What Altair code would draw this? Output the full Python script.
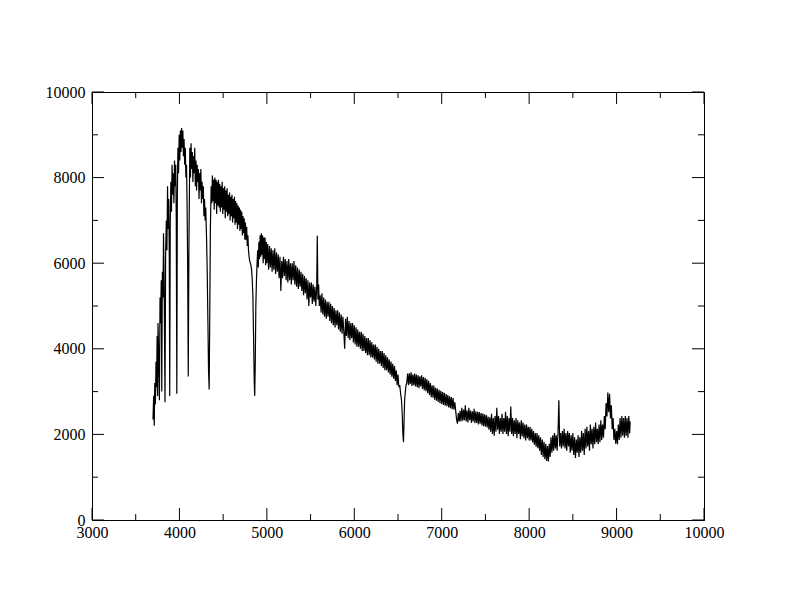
import altair as alt
import pandas as pd

# ---- spectrum (wavelength in Angstrom, flux) ----
wl_a = [3698, 3705, 3712, 3718, 3725, 3732, 3738, 3745, 3750, 3755, 3762, 3771, 3778, 3785, 3792,
        3798, 3805, 3812, 3818, 3825, 3835, 3842, 3850, 3857, 3864, 3871, 3878, 3884, 3889, 3895,
        3902, 3909, 3916, 3923, 3930, 3937, 3944, 3951, 3958, 3964, 3970, 3976, 3983, 3990, 3997]
fx_a = [2350, 2900, 2200, 3200, 2700, 3700, 3100, 4300, 2900, 4600, 3900, 2800, 5200, 4600, 5600,
        3000, 5800, 5200, 6700, 5600, 2750, 6200, 7000, 6300, 7800, 6800, 7500, 6200, 2900, 6900,
        7900, 7200, 8300, 7600, 8100, 7400, 8400, 7800, 8300, 7000, 2950, 7600, 8700, 8100, 9000]

wl_b = [4004, 4011, 4018, 4025, 4032, 4039, 4046, 4053, 4060, 4067, 4074, 4081, 4088, 4094, 4101,
        4108, 4114, 4119, 4126, 4133, 4140, 4147, 4154, 4161, 4168, 4175, 4182, 4189, 4196, 4203,
        4210, 4217, 4224, 4231, 4238, 4245, 4252, 4259, 4266, 4273, 4280, 4287, 4294, 4301, 4310,
        4318, 4326, 4333, 4340, 4347, 4354, 4363]
fx_b = [8400, 9100, 8600, 9160, 8700, 9100, 8500, 8900, 8300, 8700, 8000, 8300, 7300, 6000, 3350,
        6200, 7600, 8700, 8000, 8800, 8200, 8600, 7900, 8500, 8100, 8700, 7800, 8400, 7700, 8300,
        7900, 8200, 7500, 8100, 7700, 8200, 7400, 7900, 7500, 7800, 7100, 7500, 7000, 7300, 6600,
        5800, 4600, 3500, 3050, 4800, 6800, 7800]

wl_c = [4370, 4377, 4384, 4391, 4398, 4405, 4412, 4419, 4426, 4433, 4440, 4447, 4454, 4461, 4468,
        4475, 4482, 4489, 4496, 4503, 4510, 4517, 4524, 4531, 4538, 4545, 4552, 4559, 4566, 4573,
        4580, 4587, 4594, 4601, 4608, 4615, 4622, 4629, 4636, 4643, 4650, 4657, 4664, 4671, 4678,
        4685, 4692, 4699, 4706, 4713, 4720, 4727, 4734, 4741, 4748, 4755, 4762, 4769, 4776, 4783,
        4790, 4797, 4804, 4811, 4818, 4825, 4832, 4840, 4848, 4855, 4861, 4867, 4874, 4881, 4888,
        4895, 4902, 4909]
fx_c = [7400, 8050, 7450, 7950, 7250, 8000, 7400, 7950, 7150, 7900, 7350, 7950, 7300, 7850, 7200,
        7800, 7300, 7900, 7150, 7750, 7250, 7800, 7050, 7700, 7200, 7750, 7100, 7600, 7150, 7650,
        7000, 7550, 7100, 7600, 6950, 7500, 7050, 7550, 6900, 7450, 6950, 7400, 6800, 7350, 6900,
        7300, 6750, 7250, 6800, 7200, 6650, 7100, 6700, 7050, 6550, 6950, 6550, 6850, 6400, 6650,
        6300, 6150, 6050, 6000, 5950, 5850, 5650, 5250, 4300, 3300, 2900, 3600, 5000, 5600, 6000,
        6300, 5900, 6500]

wl_d = [4916, 4923, 4930, 4937, 4944, 4951, 4958, 4965, 4972, 4979, 4986, 4993, 5000, 5010, 5020,
        5030, 5040, 5050, 5060, 5070, 5080, 5090, 5100, 5110, 5120, 5130, 5140, 5150, 5160, 5170,
        5180, 5190, 5200, 5210, 5220, 5230, 5240, 5250, 5260, 5270, 5280, 5290, 5300, 5310, 5320,
        5330, 5340, 5350, 5360, 5370, 5380, 5390, 5400, 5410, 5420, 5430, 5440, 5450, 5460, 5470,
        5480, 5490, 5500, 5510, 5520, 5530, 5540, 5550, 5560, 5570, 5577, 5584, 5592, 5600]
fx_d = [6100, 6650, 6150, 6700, 6200, 6650, 6000, 6600, 6100, 6600, 5950, 6500, 6000, 6450, 5850,
        6400, 5900, 6350, 5800, 6300, 5850, 6350, 5750, 6250, 5800, 6200, 5650, 6150, 5350, 6050,
        5650, 6150, 5700, 6100, 5600, 6050, 5550, 6100, 5600, 6000, 5500, 6000, 5600, 6050, 5500,
        5950, 5450, 5900, 5400, 5850, 5450, 5800, 5350, 5750, 5250, 5700, 5300, 5650, 5150, 5600,
        5000, 5550, 5200, 5550, 5050, 5500, 5100, 5450, 5000, 5450, 6640, 5150, 5500, 5000]

wl_e = [5610, 5620, 5630, 5640, 5650, 5660, 5670, 5680, 5690, 5700, 5710, 5720, 5730, 5740, 5750,
        5760, 5770, 5780, 5790, 5800, 5810, 5820, 5830, 5840, 5850, 5860, 5870, 5880, 5890, 5900,
        5910, 5920, 5930, 5940, 5950, 5960, 5970, 5980, 5990, 6000, 6010, 6020, 6030, 6040, 6050,
        6060, 6070, 6080, 6090, 6100, 6110, 6120, 6130, 6140, 6150, 6160, 6170, 6180, 6190, 6200,
        6210, 6220, 6230, 6240, 6250, 6260, 6270, 6280, 6290, 6300, 6310, 6320, 6330, 6340, 6350,
        6360, 6370, 6380, 6390, 6400, 6410, 6420, 6430, 6440, 6450, 6460, 6470, 6480, 6490, 6500,
        6510, 6520, 6530, 6540, 6548, 6556, 6563, 6569, 6576, 6584, 6592]
fx_e = [5250, 4850, 5300, 4800, 5200, 4750, 5150, 4700, 5100, 4750, 5100, 4650, 5050, 4600, 5000,
        4550, 4950, 4500, 4900, 4550, 4900, 4450, 4850, 4400, 4800, 4350, 4750, 4400, 4000, 4700,
        4300, 4750, 4250, 4650, 4200, 4600, 4250, 4600, 4150, 4550, 4100, 4500, 4050, 4450, 4050,
        4400, 4000, 4400, 3950, 4350, 3950, 4300, 3900, 4250, 3850, 4250, 3850, 4200, 3800, 4150,
        3800, 4100, 3750, 4100, 3700, 4050, 3650, 4000, 3650, 3950, 3600, 3950, 3550, 3900, 3500,
        3850, 3500, 3800, 3450, 3750, 3400, 3700, 3350, 3650, 3300, 3600, 3250, 3500, 3150, 3400,
        3100, 3150, 2950, 2800, 2500, 2000, 1820, 2300, 2800, 3000, 3150]

wl_f = [6600, 6610, 6620, 6630, 6640, 6650, 6660, 6670, 6680, 6690, 6700, 6710, 6720, 6730, 6740,
        6750, 6760, 6770, 6780, 6790, 6800, 6810, 6820, 6830, 6840, 6850, 6860, 6870, 6880, 6890,
        6900, 6910, 6920, 6930, 6940, 6950, 6960, 6970, 6980, 6990, 7000, 7010, 7020, 7030, 7040,
        7050, 7060, 7070, 7080, 7090, 7100, 7110, 7120, 7130, 7140, 7150, 7160, 7170, 7180, 7190,
        7200]
fx_f = [3200, 3420, 3150, 3430, 3180, 3450, 3130, 3400, 3150, 3420, 3120, 3400, 3100, 3380, 3080,
        3360, 3120, 3380, 3060, 3340, 3030, 3320, 3010, 3290, 2960, 3250, 2920, 3200, 2870, 3150,
        2860, 3140, 2810, 3090, 2790, 3070, 2760, 3040, 2730, 3020, 2710, 2990, 2690, 2970, 2670,
        2940, 2660, 2920, 2630, 2890, 2610, 2870, 2590, 2850, 2580, 2750, 2550, 2350, 2250, 2500,
        2300]

wl_g = [7210, 7220, 7230, 7240, 7250, 7260, 7270, 7280, 7290, 7300, 7310, 7320, 7330, 7340, 7350,
        7360, 7370, 7380, 7390, 7400, 7410, 7420, 7430, 7440, 7450, 7460, 7470, 7480, 7490, 7500,
        7510, 7520, 7530, 7540, 7550, 7560, 7570, 7580, 7590, 7600, 7610, 7620, 7630, 7640, 7650,
        7660, 7670, 7680, 7690, 7700, 7710, 7720, 7730, 7740, 7750, 7760, 7770, 7780, 7790, 7800,
        7810, 7820, 7830, 7840, 7850, 7860, 7870, 7880, 7890, 7900, 7910, 7920, 7930, 7940, 7950,
        7960, 7970, 7980, 7990, 8000, 8010, 8020, 8030, 8040, 8050, 8060, 8070, 8080, 8090, 8100]
fx_g = [2550, 2300, 2620, 2320, 2580, 2330, 2680, 2300, 2560, 2280, 2620, 2330, 2560, 2270, 2540,
        2300, 2600, 2260, 2540, 2270, 2530, 2230, 2520, 2250, 2500, 2210, 2490, 2190, 2470, 2180,
        2450, 2160, 2420, 2110, 2400, 2060, 2480, 2010, 2380, 1970, 2430, 2060, 2620, 2110, 2430,
        2010, 2380, 2060, 2480, 2010, 2380, 2060, 2530, 2010, 2430, 1960, 2380, 2060, 2650, 2010,
        2380, 1960, 2330, 2010, 2380, 1910, 2330, 2010, 2280, 1890, 2330, 1960, 2280, 1910, 2230,
        1860, 2230, 1910, 2180, 1860, 2180, 1860, 2130, 1810, 2080, 1760, 2030, 1710, 2030, 1680]

wl_h = [8110, 8120, 8130, 8140, 8150, 8160, 8170, 8180, 8190, 8200, 8210, 8220, 8230, 8240, 8250,
        8260, 8270, 8280, 8290, 8300, 8310, 8320, 8330, 8340, 8350, 8360, 8370, 8380, 8390, 8400,
        8410, 8420, 8430, 8440, 8450, 8460, 8470, 8480, 8490, 8500, 8510, 8520, 8530, 8540, 8550,
        8560, 8570, 8580, 8590, 8600, 8610, 8620, 8630, 8640, 8650, 8660, 8670, 8680, 8690, 8700,
        8710, 8720, 8730, 8740, 8750, 8760, 8770, 8780, 8790, 8800, 8810, 8820, 8830, 8840, 8850,
        8860, 8870, 8880, 8890, 8900, 8910, 8920, 8930, 8940, 8950, 8960, 8970, 8980, 8990, 9000,
        9010, 9020, 9030, 9040, 9050, 9060, 9070, 9080, 9090, 9100, 9110, 9120, 9130, 9140, 9150,
        9155]
fx_h = [1980, 1620, 1930, 1520, 1880, 1470, 1830, 1420, 1780, 1380, 1730, 1370, 1780, 1470, 1930,
        1570, 1980, 1620, 2030, 1670, 1980, 1620, 2030, 2800, 1720, 2030, 1670, 2080, 1720, 2130,
        1670, 2030, 1620, 2080, 1720, 2030, 1570, 1980, 1620, 2030, 1520, 1930, 1450, 1880, 1570,
        1980, 1470, 1930, 1570, 2080, 1620, 2030, 1520, 2130, 1670, 2180, 1720, 2080, 1620, 2230,
        1770, 2130, 1670, 2180, 1770, 2280, 1820, 2130, 1770, 2230, 1820, 2330, 1870, 2230, 1920,
        2430, 2120, 2730, 2420, 2980, 2520, 2950, 2370, 2680, 2120, 2380, 1870, 2130, 1780, 2080,
        1770, 2230, 1870, 2380, 1920, 2430, 1970, 2380, 1920, 2430, 1970, 2380, 1920, 2430, 2020,
        2300]

# ---- axis ticks ----
x_labels = [3000, 4000, 5000, 6000, 7000, 8000, 9000, 10000]
x_minor = [3500, 4500, 5500, 6500, 7500, 8500, 9500]
y_labels = [0, 2000, 4000, 6000, 8000, 10000]
y_minor = [1000, 3000, 5000, 7000, 9000]

wl = wl_a + wl_b + wl_c + wl_d + wl_e + wl_f + wl_g + wl_h
fx = fx_a + fx_b + fx_c + fx_d + fx_e + fx_f + fx_g + fx_h
spec = pd.DataFrame({"wl": wl, "flux": fx})

W, H = 612, 428
MAJ, MIN = 12, 6
FONT = "Liberation Serif"

xs = alt.Scale(domain=[3000, 10000], nice=False, zero=False)
ys = alt.Scale(domain=[0, 10000], nice=False)

x_axis = alt.Axis(values=x_labels, format="d", ticks=False, grid=False,
                  labelFlush=False, labelOverlap=False, labelPadding=4,
                  domainColor="black", labelFont=FONT, labelFontSize=16,
                  labelColor="black", title=None)
y_axis = alt.Axis(values=y_labels, format="d", ticks=False, grid=False,
                  labelFlush=False, labelOverlap=False, labelPadding=7,
                  domainColor="black", labelFont=FONT, labelFontSize=16,
                  labelColor="black", title=None)

line = alt.Chart(spec).mark_line(color="black", strokeWidth=1.2).encode(
    x=alt.X("wl:Q", scale=xs, axis=x_axis, title=None),
    y=alt.Y("flux:Q", scale=ys, axis=y_axis, title=None),
)

xmaj = pd.DataFrame({"v": x_labels})
xmin = pd.DataFrame({"v": x_minor})
ymaj = pd.DataFrame({"v": y_labels})
ymin = pd.DataFrame({"v": y_minor})


def xticks(df, length):
    bottom = alt.Chart(df).mark_rule(color="black", strokeWidth=1).encode(
        x=alt.X("v:Q", scale=xs, axis=x_axis, title=None),
        y=alt.value(H), y2=alt.value(H - length))
    top = alt.Chart(df).mark_rule(color="black", strokeWidth=1).encode(
        x=alt.X("v:Q", scale=xs, axis=x_axis, title=None),
        y=alt.value(0), y2=alt.value(length))
    return [bottom, top]


def yticks(df, length):
    left = alt.Chart(df).mark_rule(color="black", strokeWidth=1).encode(
        y=alt.Y("v:Q", scale=ys, axis=y_axis, title=None),
        x=alt.value(0), x2=alt.value(length))
    right = alt.Chart(df).mark_rule(color="black", strokeWidth=1).encode(
        y=alt.Y("v:Q", scale=ys, axis=y_axis, title=None),
        x=alt.value(W), x2=alt.value(W - length))
    return [left, right]


layers = [line] + xticks(xmaj, MAJ) + xticks(xmin, MIN) + yticks(ymaj, MAJ) + yticks(ymin, MIN)

chart = alt.layer(*layers).properties(
    width=W, height=H,
    autosize=alt.AutoSizeParams(type="none"),
    padding={"left": 84, "top": 84, "right": 80, "bottom": 76},
    background="white",
).configure_view(stroke="black", strokeWidth=1)

chart.save("out.html", embed_options={"renderer": "svg", "actions": False})
